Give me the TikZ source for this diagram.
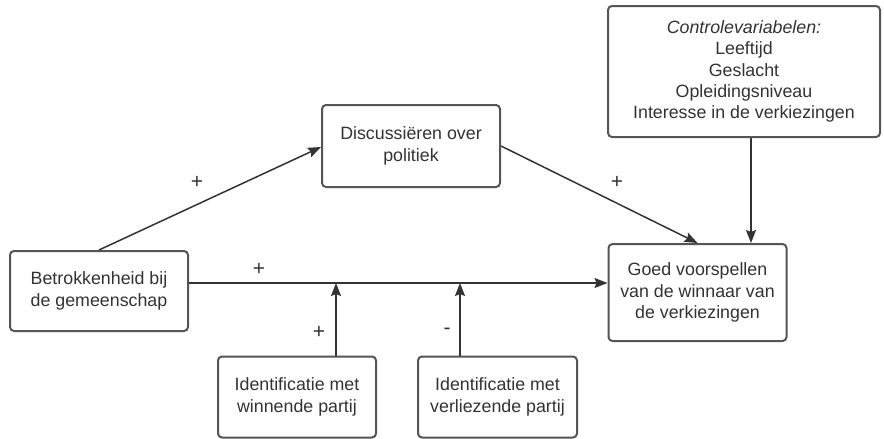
\documentclass[tikz,border=0pt]{standalone}
\usepackage{fontspec}
\setmainfont{Liberation Sans}
\usetikzlibrary{arrows.meta,calc}
\definecolor{txt}{HTML}{333333}
\definecolor{edge}{HTML}{555555}
\definecolor{conn}{HTML}{333333}
\begin{document}
\begin{tikzpicture}[x=1pt,y=-1pt,
  box/.style={draw=edge,line width=2pt,rounded corners=4pt,inner sep=0pt,align=center,text=txt,
    font=\fontsize{17.8}{21.4}\selectfont,fill=white},
  arr/.style={draw=conn,line width=1.5pt,-{Stealth[length=13pt,width=10pt,inset=2pt]}},
  lab/.style={text=txt,font=\fontsize{21}{24}\selectfont,inner sep=0pt}]
\useasboundingbox (0,0) rectangle (884,439);
\node[box,minimum width=178pt,minimum height=80pt] (bet) at (99,291) {Betrokkenheid bij\\de gemeenschap};
\node[box,minimum width=178pt,minimum height=82pt] (dis) at (411,146) {Discussiëren over\\politiek};
\node[box,minimum width=272pt,minimum height=131pt] (con) at (744,71.5) {\textit{Controlevariabelen:}\\Leeftijd\\Geslacht\\Opleidingsniveau\\Interesse in de verkiezingen};
\node[box,minimum width=178pt,minimum height=97pt] (goed) at (697.5,292.5) {Goed voorspellen\\van de winnaar van\\de verkiezingen};
\node[box,minimum width=158pt,minimum height=81pt] (win) at (297,397) {Identificatie met\\winnende partij};
\node[box,minimum width=159pt,minimum height=81pt] (ver) at (497.5,397) {Identificatie met\\verliezende partij};

\coordinate (hl) at ([yshift=8pt]bet.east);
\draw[arr] (bet.north) -- ([yshift=-1pt]dis.west);
\draw[arr] (dis.east) -- (goed.north);
\draw[arr] ([xshift=7pt]con.south) -- ([xshift=7pt]con.south |- goed.north);
\draw[arr] (hl) -- (hl -| goed.west);
\coordinate (wx) at ([xshift=39pt]win.north);
\coordinate (vx) at ([xshift=-37.5pt]ver.north);
\draw[arr] (wx) -- (wx |- hl);
\draw[arr] (vx) -- (vx |- hl);

\node[lab] (p1) at (197,182) {+};
\node[lab] (p2) at (617,182) {+};
\node[lab] (p3) at (259,269) {+};
\node[lab] (p4) at (319,332) {+};
\node[lab] (m1) at (447,331) {-};
\end{tikzpicture}
\end{document}
